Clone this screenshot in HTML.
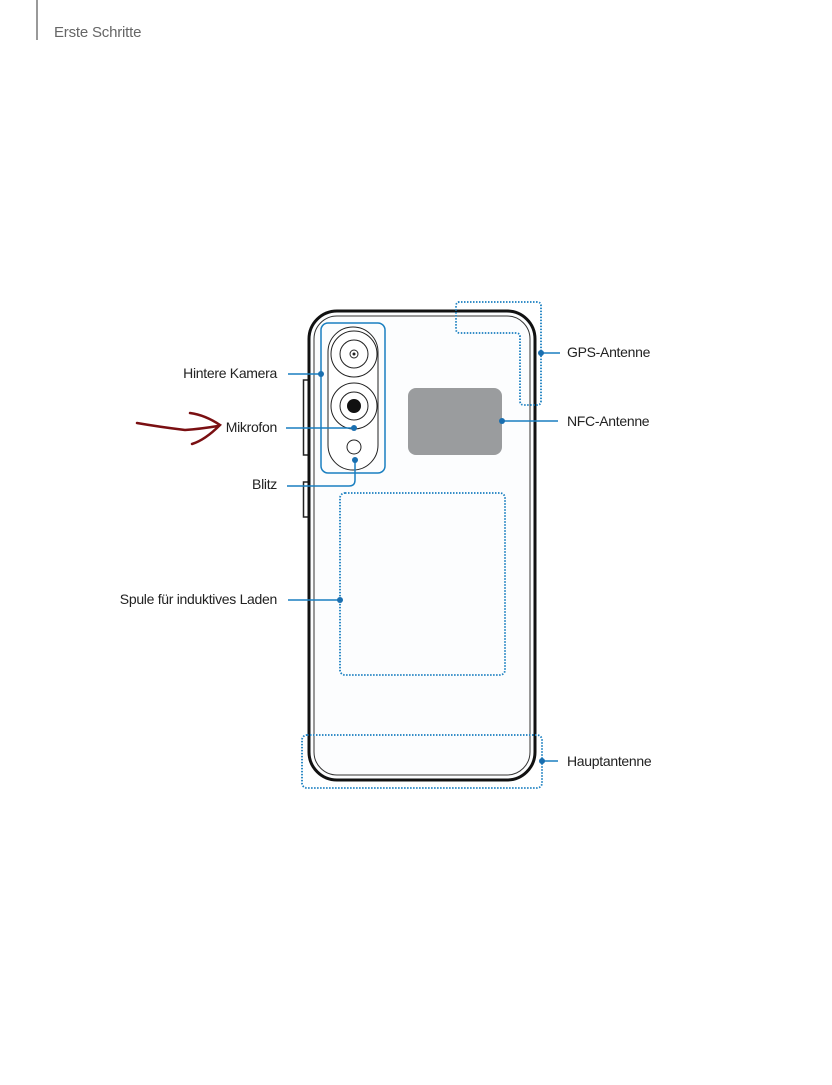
<!DOCTYPE html>
<html><head><meta charset="utf-8"><style>
body{margin:0;background:#fff;width:832px;height:1080px;overflow:hidden;font-family:"Liberation Sans",sans-serif}
</style></head><body>
<svg width="832" height="1080" xmlns="http://www.w3.org/2000/svg" font-family="Liberation Sans, sans-serif">
<line x1="37" y1="0" x2="37" y2="40" stroke="#777" stroke-width="1.5"/>
<text x="54" y="37" font-size="15" fill="#666" letter-spacing="-0.2">Erste Schritte</text>
<!-- side buttons -->
<rect x="303.5" y="380" width="5" height="75" fill="#fff" stroke="#222" stroke-width="1.5"/>
<rect x="303.5" y="482" width="5" height="35" fill="#fff" stroke="#222" stroke-width="1.5"/>
<!-- phone -->
<rect x="309" y="311" width="226" height="469" rx="28" fill="#fcfdfe" stroke="#111" stroke-width="3"/>
<rect x="314" y="316" width="216" height="459" rx="23" fill="none" stroke="#333" stroke-width="1"/>
<!-- camera -->
<rect x="321" y="323" width="64" height="150" rx="7" fill="none" stroke="#1a7fc0" stroke-width="1.5"/>
<rect x="328" y="327" width="50" height="143" rx="25" fill="#fff" stroke="#222" stroke-width="1"/>
<circle cx="354" cy="354" r="23" fill="none" stroke="#222"/>
<circle cx="354" cy="354" r="14" fill="none" stroke="#222"/>
<circle cx="354" cy="354" r="4" fill="none" stroke="#222"/>
<circle cx="354" cy="354" r="1.5" fill="#222"/>
<circle cx="354" cy="406" r="23" fill="none" stroke="#222"/>
<circle cx="354" cy="406" r="14" fill="none" stroke="#222"/>
<circle cx="354" cy="406" r="7" fill="#111"/>
<circle cx="354" cy="447" r="7" fill="#fff" stroke="#222"/>
<!-- NFC -->
<rect x="408" y="388" width="94" height="67" rx="8" fill="#9a9c9e"/>
<!-- dotted areas -->
<g fill="none" stroke="#1a7fc0" stroke-width="1.8" stroke-dasharray="1.5 1.5">
<path d="M458 302 H537 Q541 302 541 306 V401 Q541 405 537 405 H524 Q520 405 520 401 V337 Q520 333 516 333 H460 Q456 333 456 329 V306 Q456 302 460 302"/>
<rect x="340" y="493" width="165" height="182" rx="5"/>
<rect x="302" y="735" width="240" height="53" rx="5"/>
</g>
<!-- connectors -->
<g stroke="#1a7fc0" stroke-width="1.5" fill="none">
<line x1="288" y1="374" x2="321" y2="374"/>
<line x1="286" y1="428" x2="354" y2="428"/>
<path d="M287 486 H349 Q355 486 355 480 V460"/>
<line x1="288" y1="600" x2="340" y2="600"/>
<line x1="541" y1="353" x2="560" y2="353"/>
<line x1="502" y1="421" x2="558" y2="421"/>
<line x1="542" y1="761" x2="558" y2="761"/>
</g>
<g fill="#1a6fb0">
<circle cx="321" cy="374" r="3"/><circle cx="354" cy="428" r="3"/><circle cx="355" cy="460" r="3"/>
<circle cx="340" cy="600" r="3"/><circle cx="541" cy="353" r="3"/><circle cx="502" cy="421" r="3"/><circle cx="542" cy="761" r="3"/>
</g>
<g font-size="14" fill="#222" letter-spacing="-0.3">
<text x="277" y="378" text-anchor="end">Hintere Kamera</text>
<text x="277" y="432" text-anchor="end">Mikrofon</text>
<text x="277" y="489" text-anchor="end">Blitz</text>
<text x="277" y="604" text-anchor="end">Spule für induktives Laden</text>
<text x="567" y="357">GPS-Antenne</text>
<text x="567" y="426">NFC-Antenne</text>
<text x="567" y="766">Hauptantenne</text>
</g>
<path d="M137 423 Q160 427 185 430 Q200 429 218 426 M190 413 Q205 415 220 425 Q205 440 192 444" fill="none" stroke="#7a0f12" stroke-width="2.5" stroke-linecap="round"/>
</svg>
</body></html>
